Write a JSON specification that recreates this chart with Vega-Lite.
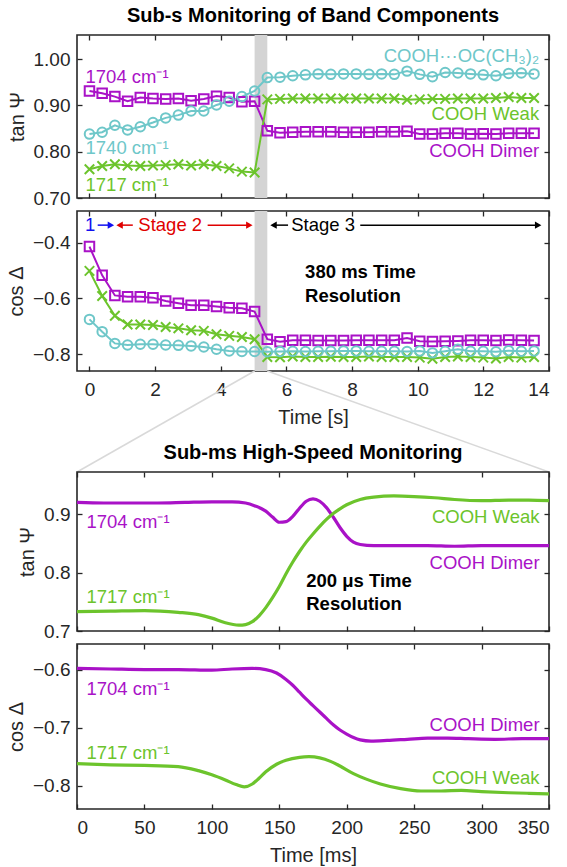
{
"$schema": "https://vega.github.io/schema/vega-lite/v6.json",
"background": "white",
"padding": {"left": 5, "right": 4, "top": 5, "bottom": 2},
"config": {
  "font": "Liberation Sans",
  "view": {"stroke": "#262626", "strokeWidth": 1.6},
  "axis": {"grid": false, "domain": false, "tickColor": "#262626", "tickWidth": 1.3, "tickSize": -5, "labelFont": "Liberation Sans", "labelFontSize": 19, "labelColor": "#262626", "titleFont": "Liberation Sans", "titleFontSize": 20, "titleFontWeight": "normal", "titleColor": "#262626"},
  "axisX": {"labelPadding": 14, "titlePadding": 8},
  "axisY": {"labelPadding": 12, "titlePadding": 6},
  "title": {"font": "Liberation Sans", "fontSize": 20, "fontWeight": "bold", "color": "#000000", "anchor": "middle", "offset": 8},
  "text": {"font": "Liberation Sans", "fontSize": 18.5}
},
"datasets": {
  "band": [{"a": 5.031, "b": 5.418}],
  "s": [
    {"t":0,"band":"1704","tan":0.931,"cos":-0.414},{"t":0.387,"band":"1704","tan":0.926,"cos":-0.517},{"t":0.774,"band":"1704","tan":0.919,"cos":-0.589},{"t":1.161,"band":"1704","tan":0.909,"cos":-0.594},{"t":1.548,"band":"1704","tan":0.917,"cos":-0.594},{"t":1.935,"band":"1704","tan":0.915,"cos":-0.597},{"t":2.322,"band":"1704","tan":0.914,"cos":-0.609},{"t":2.709,"band":"1704","tan":0.915,"cos":-0.617},{"t":3.096,"band":"1704","tan":0.910,"cos":-0.624},{"t":3.483,"band":"1704","tan":0.914,"cos":-0.624},{"t":3.87,"band":"1704","tan":0.920,"cos":-0.629},{"t":4.257,"band":"1704","tan":0.917,"cos":-0.633},{"t":4.644,"band":"1704","tan":0.908,"cos":-0.635},{"t":5.031,"band":"1704","tan":0.909,"cos":-0.647},{"t":5.418,"band":"1704","tan":0.845,"cos":-0.746},{"t":5.805,"band":"1704","tan":0.841,"cos":-0.755},{"t":6.192,"band":"1704","tan":0.842,"cos":-0.750},{"t":6.579,"band":"1704","tan":0.843,"cos":-0.750},{"t":6.966,"band":"1704","tan":0.843,"cos":-0.751},{"t":7.353,"band":"1704","tan":0.843,"cos":-0.751},{"t":7.74,"band":"1704","tan":0.842,"cos":-0.751},{"t":8.127,"band":"1704","tan":0.842,"cos":-0.750},{"t":8.514,"band":"1704","tan":0.842,"cos":-0.750},{"t":8.901,"band":"1704","tan":0.843,"cos":-0.750},{"t":9.288,"band":"1704","tan":0.843,"cos":-0.750},{"t":9.675,"band":"1704","tan":0.844,"cos":-0.742},{"t":10.062,"band":"1704","tan":0.838,"cos":-0.753},{"t":10.449,"band":"1704","tan":0.838,"cos":-0.754},{"t":10.836,"band":"1704","tan":0.840,"cos":-0.753},{"t":11.223,"band":"1704","tan":0.840,"cos":-0.752},{"t":11.61,"band":"1704","tan":0.838,"cos":-0.750},{"t":11.997,"band":"1704","tan":0.839,"cos":-0.750},{"t":12.384,"band":"1704","tan":0.838,"cos":-0.751},{"t":12.771,"band":"1704","tan":0.840,"cos":-0.749},{"t":13.158,"band":"1704","tan":0.840,"cos":-0.750},{"t":13.545,"band":"1704","tan":0.840,"cos":-0.751},
    {"t":0,"band":"1717","tan":0.762,"cos":-0.501},{"t":0.387,"band":"1717","tan":0.769,"cos":-0.591},{"t":0.774,"band":"1717","tan":0.773,"cos":-0.662},{"t":1.161,"band":"1717","tan":0.770,"cos":-0.693},{"t":1.548,"band":"1717","tan":0.769,"cos":-0.693},{"t":1.935,"band":"1717","tan":0.770,"cos":-0.695},{"t":2.322,"band":"1717","tan":0.771,"cos":-0.702},{"t":2.709,"band":"1717","tan":0.773,"cos":-0.707},{"t":3.096,"band":"1717","tan":0.770,"cos":-0.714},{"t":3.483,"band":"1717","tan":0.773,"cos":-0.716},{"t":3.87,"band":"1717","tan":0.769,"cos":-0.728},{"t":4.257,"band":"1717","tan":0.764,"cos":-0.734},{"t":4.644,"band":"1717","tan":0.757,"cos":-0.738},{"t":5.031,"band":"1717","tan":0.755,"cos":-0.746},{"t":5.418,"band":"1717","tan":0.913,"cos":-0.810},{"t":5.805,"band":"1717","tan":0.914,"cos":-0.811},{"t":6.192,"band":"1717","tan":0.915,"cos":-0.808},{"t":6.579,"band":"1717","tan":0.915,"cos":-0.810},{"t":6.966,"band":"1717","tan":0.915,"cos":-0.810},{"t":7.353,"band":"1717","tan":0.915,"cos":-0.809},{"t":7.74,"band":"1717","tan":0.915,"cos":-0.810},{"t":8.127,"band":"1717","tan":0.915,"cos":-0.810},{"t":8.514,"band":"1717","tan":0.915,"cos":-0.808},{"t":8.901,"band":"1717","tan":0.915,"cos":-0.810},{"t":9.288,"band":"1717","tan":0.915,"cos":-0.810},{"t":9.675,"band":"1717","tan":0.912,"cos":-0.810},{"t":10.062,"band":"1717","tan":0.913,"cos":-0.812},{"t":10.449,"band":"1717","tan":0.914,"cos":-0.816},{"t":10.836,"band":"1717","tan":0.914,"cos":-0.810},{"t":11.223,"band":"1717","tan":0.915,"cos":-0.808},{"t":11.61,"band":"1717","tan":0.915,"cos":-0.810},{"t":11.997,"band":"1717","tan":0.915,"cos":-0.812},{"t":12.384,"band":"1717","tan":0.916,"cos":-0.815},{"t":12.771,"band":"1717","tan":0.918,"cos":-0.810},{"t":13.158,"band":"1717","tan":0.916,"cos":-0.812},{"t":13.545,"band":"1717","tan":0.916,"cos":-0.810},
    {"t":0,"band":"1740","tan":0.838,"cos":-0.675},{"t":0.387,"band":"1740","tan":0.842,"cos":-0.719},{"t":0.774,"band":"1740","tan":0.857,"cos":-0.761},{"t":1.161,"band":"1740","tan":0.847,"cos":-0.767},{"t":1.548,"band":"1740","tan":0.854,"cos":-0.764},{"t":1.935,"band":"1740","tan":0.863,"cos":-0.764},{"t":2.322,"band":"1740","tan":0.873,"cos":-0.767},{"t":2.709,"band":"1740","tan":0.879,"cos":-0.768},{"t":3.096,"band":"1740","tan":0.888,"cos":-0.770},{"t":3.483,"band":"1740","tan":0.888,"cos":-0.774},{"t":3.87,"band":"1740","tan":0.901,"cos":-0.782},{"t":4.257,"band":"1740","tan":0.909,"cos":-0.788},{"t":4.644,"band":"1740","tan":0.919,"cos":-0.790},{"t":5.031,"band":"1740","tan":0.931,"cos":-0.790},{"t":5.418,"band":"1740","tan":0.960,"cos":-0.791},{"t":5.805,"band":"1740","tan":0.961,"cos":-0.790},{"t":6.192,"band":"1740","tan":0.964,"cos":-0.789},{"t":6.579,"band":"1740","tan":0.966,"cos":-0.790},{"t":6.966,"band":"1740","tan":0.968,"cos":-0.789},{"t":7.353,"band":"1740","tan":0.967,"cos":-0.789},{"t":7.74,"band":"1740","tan":0.968,"cos":-0.788},{"t":8.127,"band":"1740","tan":0.968,"cos":-0.788},{"t":8.514,"band":"1740","tan":0.967,"cos":-0.789},{"t":8.901,"band":"1740","tan":0.968,"cos":-0.789},{"t":9.288,"band":"1740","tan":0.967,"cos":-0.789},{"t":9.675,"band":"1740","tan":0.974,"cos":-0.790},{"t":10.062,"band":"1740","tan":0.967,"cos":-0.788},{"t":10.449,"band":"1740","tan":0.962,"cos":-0.795},{"t":10.836,"band":"1740","tan":0.971,"cos":-0.789},{"t":11.223,"band":"1740","tan":0.970,"cos":-0.782},{"t":11.61,"band":"1740","tan":0.968,"cos":-0.789},{"t":11.997,"band":"1740","tan":0.966,"cos":-0.789},{"t":12.384,"band":"1740","tan":0.964,"cos":-0.791},{"t":12.771,"band":"1740","tan":0.969,"cos":-0.787},{"t":13.158,"band":"1740","tan":0.970,"cos":-0.789},{"t":13.545,"band":"1740","tan":0.968,"cos":-0.788}
  ],
  "n1l": [
    {"t":-0.12,"v":0.962,"label":"1704 cm⁻¹","band":"1704"},
    {"t":-0.12,"v":0.807,"label":"1740 cm⁻¹","band":"1740"},
    {"t":-0.12,"v":0.729,"label":"1717 cm⁻¹","band":"1717"}
  ],
  "n1r": [
    {"t":13.7,"v":1.007,"label":"COOH···OC(CH₃)₂","band":"1740"},
    {"t":13.7,"v":0.881,"label":"COOH Weak","band":"1717"},
    {"t":13.7,"v":0.801,"label":"COOH Dimer","band":"1704"}
  ],
  "n2b": [
    {"t":6.57,"v":-0.505,"label":"380 ms Time"},
    {"t":6.57,"v":-0.591,"label":"Resolution"}
  ],
  "stR": [
    {"a":0.25,"b":0.66,"v":-0.337,"stage":"1"},
    {"a":0.917,"b":1.32,"v":-0.337,"stage":"2"},
    {"a":3.6,"b":4.87,"v":-0.337,"stage":"2"},
    {"a":5.607,"b":6.05,"v":-0.337,"stage":"3"},
    {"a":8.25,"b":13.67,"v":-0.337,"stage":"3"}
  ],
  "stH": [
    {"t":0.653,"v":-0.337,"dir":"right","stage":"1"},
    {"t":0.917,"v":-0.337,"dir":"left","stage":"2"},
    {"t":4.87,"v":-0.337,"dir":"right","stage":"2"},
    {"t":5.607,"v":-0.337,"dir":"left","stage":"3"},
    {"t":13.67,"v":-0.337,"dir":"right","stage":"3"}
  ],
  "stT": [
    {"t":0.02,"v":-0.337,"label":"1","stage":"1"},
    {"t":2.46,"v":-0.337,"label":"Stage 2","stage":"2"},
    {"t":7.12,"v":-0.337,"label":"Stage 3","stage":"3"}
  ],
  "conn": [
    {"seg":"L","t":5.031,"v":1.1733},{"seg":"L","t":-0.38,"v":-0.1733},
    {"seg":"R","t":5.418,"v":1.1733},{"seg":"R","t":14,"v":-0.1733}
  ],
  "mt": [
    {"ms":0,"band":"1704","v":0.920},{"ms":20,"band":"1704","v":0.919},{"ms":40,"band":"1704","v":0.919},{"ms":60,"band":"1704","v":0.919},{"ms":80,"band":"1704","v":0.920},{"ms":100,"band":"1704","v":0.921},{"ms":115,"band":"1704","v":0.921},{"ms":125,"band":"1704","v":0.919},{"ms":132,"band":"1704","v":0.914},{"ms":140,"band":"1704","v":0.905},{"ms":145,"band":"1704","v":0.895},{"ms":150,"band":"1704","v":0.886},{"ms":155,"band":"1704","v":0.887},{"ms":160,"band":"1704","v":0.896},{"ms":165,"band":"1704","v":0.910},{"ms":170,"band":"1704","v":0.922},{"ms":175,"band":"1704","v":0.926},{"ms":180,"band":"1704","v":0.922},{"ms":185,"band":"1704","v":0.911},{"ms":190,"band":"1704","v":0.895},{"ms":195,"band":"1704","v":0.877},{"ms":200,"band":"1704","v":0.862},{"ms":205,"band":"1704","v":0.852},{"ms":210,"band":"1704","v":0.848},{"ms":220,"band":"1704","v":0.846},{"ms":240,"band":"1704","v":0.846},{"ms":260,"band":"1704","v":0.846},{"ms":280,"band":"1704","v":0.845},{"ms":300,"band":"1704","v":0.846},{"ms":325,"band":"1704","v":0.846},{"ms":350,"band":"1704","v":0.846},
    {"ms":0,"band":"1717","v":0.733},{"ms":25,"band":"1717","v":0.734},{"ms":50,"band":"1717","v":0.735},{"ms":75,"band":"1717","v":0.732},{"ms":90,"band":"1717","v":0.728},{"ms":100,"band":"1717","v":0.722},{"ms":110,"band":"1717","v":0.714},{"ms":120,"band":"1717","v":0.710},{"ms":125,"band":"1717","v":0.711},{"ms":130,"band":"1717","v":0.716},{"ms":135,"band":"1717","v":0.726},{"ms":140,"band":"1717","v":0.740},{"ms":145,"band":"1717","v":0.757},{"ms":150,"band":"1717","v":0.776},{"ms":155,"band":"1717","v":0.798},{"ms":160,"band":"1717","v":0.818},{"ms":165,"band":"1717","v":0.836},{"ms":170,"band":"1717","v":0.852},{"ms":175,"band":"1717","v":0.866},{"ms":180,"band":"1717","v":0.879},{"ms":185,"band":"1717","v":0.891},{"ms":190,"band":"1717","v":0.901},{"ms":195,"band":"1717","v":0.909},{"ms":200,"band":"1717","v":0.916},{"ms":210,"band":"1717","v":0.925},{"ms":220,"band":"1717","v":0.929},{"ms":235,"band":"1717","v":0.931},{"ms":250,"band":"1717","v":0.930},{"ms":265,"band":"1717","v":0.928},{"ms":280,"band":"1717","v":0.925},{"ms":300,"band":"1717","v":0.923},{"ms":320,"band":"1717","v":0.924},{"ms":335,"band":"1717","v":0.924},{"ms":350,"band":"1717","v":0.923}
  ],
  "mc": [
    {"ms":0,"band":"1704","v":-0.598},{"ms":25,"band":"1704","v":-0.599},{"ms":50,"band":"1704","v":-0.600},{"ms":75,"band":"1704","v":-0.600},{"ms":100,"band":"1704","v":-0.601},{"ms":115,"band":"1704","v":-0.599},{"ms":130,"band":"1704","v":-0.598},{"ms":140,"band":"1704","v":-0.600},{"ms":148,"band":"1704","v":-0.606},{"ms":155,"band":"1704","v":-0.617},{"ms":160,"band":"1704","v":-0.627},{"ms":165,"band":"1704","v":-0.639},{"ms":170,"band":"1704","v":-0.651},{"ms":175,"band":"1704","v":-0.662},{"ms":180,"band":"1704","v":-0.673},{"ms":185,"band":"1704","v":-0.684},{"ms":190,"band":"1704","v":-0.695},{"ms":195,"band":"1704","v":-0.704},{"ms":200,"band":"1704","v":-0.711},{"ms":205,"band":"1704","v":-0.717},{"ms":210,"band":"1704","v":-0.721},{"ms":218,"band":"1704","v":-0.723},{"ms":230,"band":"1704","v":-0.722},{"ms":245,"band":"1704","v":-0.720},{"ms":260,"band":"1704","v":-0.718},{"ms":275,"band":"1704","v":-0.718},{"ms":290,"band":"1704","v":-0.719},{"ms":310,"band":"1704","v":-0.720},{"ms":330,"band":"1704","v":-0.719},{"ms":350,"band":"1704","v":-0.719},
    {"ms":0,"band":"1717","v":-0.762},{"ms":25,"band":"1717","v":-0.764},{"ms":50,"band":"1717","v":-0.765},{"ms":75,"band":"1717","v":-0.767},{"ms":90,"band":"1717","v":-0.774},{"ms":100,"band":"1717","v":-0.781},{"ms":110,"band":"1717","v":-0.790},{"ms":118,"band":"1717","v":-0.798},{"ms":124,"band":"1717","v":-0.802},{"ms":130,"band":"1717","v":-0.797},{"ms":135,"band":"1717","v":-0.787},{"ms":140,"band":"1717","v":-0.776},{"ms":148,"band":"1717","v":-0.763},{"ms":155,"band":"1717","v":-0.756},{"ms":165,"band":"1717","v":-0.751},{"ms":172,"band":"1717","v":-0.750},{"ms":180,"band":"1717","v":-0.752},{"ms":188,"band":"1717","v":-0.758},{"ms":195,"band":"1717","v":-0.766},{"ms":205,"band":"1717","v":-0.779},{"ms":215,"band":"1717","v":-0.789},{"ms":225,"band":"1717","v":-0.797},{"ms":240,"band":"1717","v":-0.805},{"ms":255,"band":"1717","v":-0.809},{"ms":270,"band":"1717","v":-0.809},{"ms":285,"band":"1717","v":-0.808},{"ms":300,"band":"1717","v":-0.810},{"ms":320,"band":"1717","v":-0.812},{"ms":335,"band":"1717","v":-0.813},{"ms":350,"band":"1717","v":-0.814}
  ],
  "n3l": [
    {"ms":7,"v":0.887,"label":"1704 cm⁻¹","band":"1704"},
    {"ms":7,"v":0.758,"label":"1717 cm⁻¹","band":"1717"}
  ],
  "n3r": [
    {"ms":343,"v":0.895,"label":"COOH Weak","band":"1717"},
    {"ms":343,"v":0.817,"label":"COOH Dimer","band":"1704"}
  ],
  "n3b": [
    {"ms":170,"v":0.785,"label":"200 μs Time"},
    {"ms":170,"v":0.746,"label":"Resolution"}
  ],
  "n4l": [
    {"ms":7,"v":-0.634,"label":"1704 cm⁻¹","band":"1704"},
    {"ms":7,"v":-0.744,"label":"1717 cm⁻¹","band":"1717"}
  ],
  "n4r": [
    {"ms":343,"v":-0.695,"label":"COOH Dimer","band":"1704"},
    {"ms":343,"v":-0.787,"label":"COOH Weak","band":"1717"}
  ]
},
"spacing": 13,
"bounds": "flush",
"vconcat": [
  {
    "width": 472, "height": 163,
    "title": "Sub-s Monitoring of Band Components",
    "layer": [
      {"data": {"name": "band"}, "mark": {"type": "rect", "color": "#D4D4D4"},
       "encoding": {"x": {"field": "a", "type": "quantitative", "scale": {"domain": [-0.38, 14], "nice": false}, "axis": {"orient": "bottom", "labels": false, "title": null, "values": [0,2,4,6,8,10,12,14]}}, "x2": {"field": "b"}}},
      {"data": {"name": "s"}, "mark": {"type": "line", "strokeWidth": 2},
       "encoding": {"x": {"field": "t", "type": "quantitative", "scale": {"domain": [-0.38, 14], "nice": false}, "axis": null},
         "y": {"field": "tan", "type": "quantitative", "scale": {"domain": [0.70, 1.052], "nice": false, "zero": false}, "axis": {"title": "tan Ψ", "values": [0.7, 0.8, 0.9, 1.0], "format": ".2f"}},
         "color": {"field": "band", "type": "nominal", "scale": {"domain": ["1704","1717","1740"], "range": ["#A912C7","#6CC42C","#6EC7C9"]}, "legend": null}}},
      {"data": {"name": "s"}, "mark": {"type": "point", "filled": false, "strokeWidth": 2, "size": 90, "opacity": 1},
       "encoding": {"x": {"field": "t", "type": "quantitative", "scale": {"domain": [-0.38, 14], "nice": false}, "axis": null},
         "y": {"field": "tan", "type": "quantitative", "scale": {"domain": [0.70, 1.052], "nice": false, "zero": false}, "axis": null},
         "color": {"field": "band", "type": "nominal", "scale": {"domain": ["1704","1717","1740"], "range": ["#A912C7","#6CC42C","#6EC7C9"]}, "legend": null},
         "shape": {"field": "band", "type": "nominal", "scale": {"domain": ["1704","1717","1740"], "range": ["square","M-1,-1L1,1M-1,1L1,-1","circle"]}, "legend": null}}},
      {"data": {"name": "n1l"}, "mark": {"type": "text", "align": "left", "baseline": "middle"},
       "encoding": {"x": {"field": "t", "type": "quantitative", "scale": {"domain": [-0.38, 14], "nice": false}, "axis": null},
         "y": {"field": "v", "type": "quantitative", "scale": {"domain": [0.70, 1.052], "nice": false, "zero": false}, "axis": null},
         "text": {"field": "label"},
         "color": {"field": "band", "type": "nominal", "scale": {"domain": ["1704","1717","1740"], "range": ["#A912C7","#6CC42C","#6EC7C9"]}, "legend": null}}},
      {"data": {"name": "n1r"}, "mark": {"type": "text", "align": "right", "baseline": "middle"},
       "encoding": {"x": {"field": "t", "type": "quantitative", "scale": {"domain": [-0.38, 14], "nice": false}, "axis": null},
         "y": {"field": "v", "type": "quantitative", "scale": {"domain": [0.70, 1.052], "nice": false, "zero": false}, "axis": null},
         "text": {"field": "label"},
         "color": {"field": "band", "type": "nominal", "scale": {"domain": ["1704","1717","1740"], "range": ["#A912C7","#6CC42C","#6EC7C9"]}, "legend": null}}},
      {"data": {"name": "s"}, "mark": {"type": "point", "opacity": 0},
       "encoding": {"x": {"field": "t", "type": "quantitative", "scale": {"domain": [-0.38, 14], "nice": false}, "axis": {"orient": "top", "labels": false, "title": null, "values": [0,2,4,6,8,10,12,14]}},
         "y": {"field": "tan", "type": "quantitative", "scale": {"domain": [0.70, 1.052], "nice": false, "zero": false}, "axis": {"orient": "right", "labels": false, "title": null, "values": [0.7, 0.8, 0.9, 1.0]}}}}
    ],
    "resolve": {"axis": {"x": "independent", "y": "independent"}}
  },
  {
    "width": 472, "height": 160,
    "layer": [
      {"data": {"name": "band"}, "mark": {"type": "rect", "color": "#D4D4D4"},
       "encoding": {"x": {"field": "a", "type": "quantitative", "scale": {"domain": [-0.38, 14], "nice": false}, "axis": {"orient": "bottom", "title": "Time [s]", "values": [0,2,4,6,8,10,12,14]}}, "x2": {"field": "b"}}},
      {"data": {"name": "s"}, "mark": {"type": "line", "strokeWidth": 2},
       "encoding": {"x": {"field": "t", "type": "quantitative", "scale": {"domain": [-0.38, 14], "nice": false}, "axis": null},
         "y": {"field": "cos", "type": "quantitative", "scale": {"domain": [-0.86, -0.2863], "nice": false, "zero": false}, "axis": {"title": "cos Δ", "values": [-0.8, -0.6, -0.4], "format": ".1f"}},
         "color": {"field": "band", "type": "nominal", "scale": {"domain": ["1704","1717","1740"], "range": ["#A912C7","#6CC42C","#6EC7C9"]}, "legend": null}}},
      {"data": {"name": "s"}, "mark": {"type": "point", "filled": false, "strokeWidth": 2, "size": 90, "opacity": 1},
       "encoding": {"x": {"field": "t", "type": "quantitative", "scale": {"domain": [-0.38, 14], "nice": false}, "axis": null},
         "y": {"field": "cos", "type": "quantitative", "scale": {"domain": [-0.86, -0.2863], "nice": false, "zero": false}, "axis": null},
         "color": {"field": "band", "type": "nominal", "scale": {"domain": ["1704","1717","1740"], "range": ["#A912C7","#6CC42C","#6EC7C9"]}, "legend": null},
         "shape": {"field": "band", "type": "nominal", "scale": {"domain": ["1704","1717","1740"], "range": ["square","M-1,-1L1,1M-1,1L1,-1","circle"]}, "legend": null}}},
      {"data": {"name": "n2b"}, "mark": {"type": "text", "align": "left", "baseline": "middle", "fontWeight": "bold", "color": "#000000"},
       "encoding": {"x": {"field": "t", "type": "quantitative", "scale": {"domain": [-0.38, 14], "nice": false}, "axis": null},
         "y": {"field": "v", "type": "quantitative", "scale": {"domain": [-0.86, -0.2863], "nice": false, "zero": false}, "axis": null},
         "text": {"field": "label"}}},
      {"data": {"name": "stR"}, "mark": {"type": "rule", "strokeWidth": 1.5},
       "encoding": {"x": {"field": "a", "type": "quantitative", "scale": {"domain": [-0.38, 14], "nice": false}, "axis": null}, "x2": {"field": "b"},
         "y": {"field": "v", "type": "quantitative", "scale": {"domain": [-0.86, -0.2863], "nice": false, "zero": false}, "axis": null},
         "color": {"field": "stage", "type": "nominal", "scale": {"domain": ["1","2","3"], "range": ["#1010F0","#E00000","#000000"]}, "legend": null}}},
      {"data": {"name": "stH"}, "mark": {"type": "point", "filled": true, "size": 55, "opacity": 1},
       "encoding": {"x": {"field": "t", "type": "quantitative", "scale": {"domain": [-0.38, 14], "nice": false}, "axis": null},
         "y": {"field": "v", "type": "quantitative", "scale": {"domain": [-0.86, -0.2863], "nice": false, "zero": false}, "axis": null},
         "shape": {"field": "dir", "type": "nominal", "scale": {"domain": ["right","left"], "range": ["triangle-right","triangle-left"]}, "legend": null},
         "color": {"field": "stage", "type": "nominal", "scale": {"domain": ["1","2","3"], "range": ["#1010F0","#E00000","#000000"]}, "legend": null}}},
      {"data": {"name": "stT"}, "mark": {"type": "text", "align": "center", "baseline": "middle"},
       "encoding": {"x": {"field": "t", "type": "quantitative", "scale": {"domain": [-0.38, 14], "nice": false}, "axis": null},
         "y": {"field": "v", "type": "quantitative", "scale": {"domain": [-0.86, -0.2863], "nice": false, "zero": false}, "axis": null},
         "text": {"field": "label"},
         "color": {"field": "stage", "type": "nominal", "scale": {"domain": ["1","2","3"], "range": ["#1010F0","#E00000","#000000"]}, "legend": null}}},
      {"data": {"name": "s"}, "mark": {"type": "point", "opacity": 0},
       "encoding": {"x": {"field": "t", "type": "quantitative", "scale": {"domain": [-0.38, 14], "nice": false}, "axis": {"orient": "top", "labels": false, "title": null, "values": [0,2,4,6,8,10,12,14]}},
         "y": {"field": "cos", "type": "quantitative", "scale": {"domain": [-0.86, -0.2863], "nice": false, "zero": false}, "axis": {"orient": "right", "labels": false, "title": null, "values": [-0.8, -0.6, -0.4]}}}}
    ],
    "resolve": {"axis": {"x": "independent", "y": "independent"}, "scale": {"color": "independent", "shape": "independent"}}
  },
  {
    "width": 472, "height": 75,
    "view": {"stroke": null},
    "data": {"name": "conn"},
    "mark": {"type": "line", "color": "#D9D9D9", "strokeWidth": 1.5, "clip": false},
    "encoding": {
      "x": {"field": "t", "type": "quantitative", "scale": {"domain": [-0.38, 14], "nice": false}, "axis": null},
      "y": {"field": "v", "type": "quantitative", "scale": {"domain": [0, 1], "nice": false, "zero": false}, "axis": null},
      "detail": {"field": "seg"}
    }
  },
  {
    "width": 472, "height": 159,
    "title": "Sub-ms High-Speed Monitoring",
    "layer": [
      {"data": {"name": "mt"}, "mark": {"type": "line", "strokeWidth": 3.2, "interpolate": "monotone"},
       "encoding": {"x": {"field": "ms", "type": "quantitative", "scale": {"domain": [0, 350], "nice": false}, "axis": {"orient": "bottom", "labels": false, "title": null, "values": [0,50,100,150,200,250,300,350]}},
         "y": {"field": "v", "type": "quantitative", "scale": {"domain": [0.70, 0.972], "nice": false, "zero": false}, "axis": {"title": "tan Ψ", "values": [0.7, 0.8, 0.9], "format": ".1f"}},
         "color": {"field": "band", "type": "nominal", "scale": {"domain": ["1704","1717","1740"], "range": ["#A912C7","#6CC42C","#6EC7C9"]}, "legend": null}}},
      {"data": {"name": "n3l"}, "mark": {"type": "text", "align": "left", "baseline": "middle"},
       "encoding": {"x": {"field": "ms", "type": "quantitative", "scale": {"domain": [0, 350], "nice": false}, "axis": null},
         "y": {"field": "v", "type": "quantitative", "scale": {"domain": [0.70, 0.972], "nice": false, "zero": false}, "axis": null},
         "text": {"field": "label"},
         "color": {"field": "band", "type": "nominal", "scale": {"domain": ["1704","1717","1740"], "range": ["#A912C7","#6CC42C","#6EC7C9"]}, "legend": null}}},
      {"data": {"name": "n3r"}, "mark": {"type": "text", "align": "right", "baseline": "middle"},
       "encoding": {"x": {"field": "ms", "type": "quantitative", "scale": {"domain": [0, 350], "nice": false}, "axis": null},
         "y": {"field": "v", "type": "quantitative", "scale": {"domain": [0.70, 0.972], "nice": false, "zero": false}, "axis": null},
         "text": {"field": "label"},
         "color": {"field": "band", "type": "nominal", "scale": {"domain": ["1704","1717","1740"], "range": ["#A912C7","#6CC42C","#6EC7C9"]}, "legend": null}}},
      {"data": {"name": "n3b"}, "mark": {"type": "text", "align": "left", "baseline": "middle", "fontWeight": "bold", "color": "#000000"},
       "encoding": {"x": {"field": "ms", "type": "quantitative", "scale": {"domain": [0, 350], "nice": false}, "axis": null},
         "y": {"field": "v", "type": "quantitative", "scale": {"domain": [0.70, 0.972], "nice": false, "zero": false}, "axis": null},
         "text": {"field": "label"}}},
      {"data": {"name": "mt"}, "mark": {"type": "point", "opacity": 0},
       "encoding": {"x": {"field": "ms", "type": "quantitative", "scale": {"domain": [0, 350], "nice": false}, "axis": {"orient": "top", "labels": false, "title": null, "values": [0,50,100,150,200,250,300,350]}},
         "y": {"field": "v", "type": "quantitative", "scale": {"domain": [0.70, 0.972], "nice": false, "zero": false}, "axis": {"orient": "right", "labels": false, "title": null, "values": [0.7, 0.8, 0.9]}}}}
    ],
    "resolve": {"axis": {"x": "independent", "y": "independent"}}
  },
  {
    "width": 472, "height": 165,
    "layer": [
      {"data": {"name": "mc"}, "mark": {"type": "line", "strokeWidth": 3.2, "interpolate": "monotone"},
       "encoding": {"x": {"field": "ms", "type": "quantitative", "scale": {"domain": [0, 350], "nice": false}, "axis": {"orient": "bottom", "title": "Time [ms]", "values": [0,50,100,150,200,250,300,350]}},
         "y": {"field": "v", "type": "quantitative", "scale": {"domain": [-0.84, -0.556], "nice": false, "zero": false}, "axis": {"title": "cos Δ", "values": [-0.8, -0.7, -0.6], "format": ".1f"}},
         "color": {"field": "band", "type": "nominal", "scale": {"domain": ["1704","1717","1740"], "range": ["#A912C7","#6CC42C","#6EC7C9"]}, "legend": null}}},
      {"data": {"name": "n4l"}, "mark": {"type": "text", "align": "left", "baseline": "middle"},
       "encoding": {"x": {"field": "ms", "type": "quantitative", "scale": {"domain": [0, 350], "nice": false}, "axis": null},
         "y": {"field": "v", "type": "quantitative", "scale": {"domain": [-0.84, -0.556], "nice": false, "zero": false}, "axis": null},
         "text": {"field": "label"},
         "color": {"field": "band", "type": "nominal", "scale": {"domain": ["1704","1717","1740"], "range": ["#A912C7","#6CC42C","#6EC7C9"]}, "legend": null}}},
      {"data": {"name": "n4r"}, "mark": {"type": "text", "align": "right", "baseline": "middle"},
       "encoding": {"x": {"field": "ms", "type": "quantitative", "scale": {"domain": [0, 350], "nice": false}, "axis": null},
         "y": {"field": "v", "type": "quantitative", "scale": {"domain": [-0.84, -0.556], "nice": false, "zero": false}, "axis": null},
         "text": {"field": "label"},
         "color": {"field": "band", "type": "nominal", "scale": {"domain": ["1704","1717","1740"], "range": ["#A912C7","#6CC42C","#6EC7C9"]}, "legend": null}}},
      {"data": {"name": "mc"}, "mark": {"type": "point", "opacity": 0},
       "encoding": {"x": {"field": "ms", "type": "quantitative", "scale": {"domain": [0, 350], "nice": false}, "axis": {"orient": "top", "labels": false, "title": null, "values": [0,50,100,150,200,250,300,350]}},
         "y": {"field": "v", "type": "quantitative", "scale": {"domain": [-0.84, -0.556], "nice": false, "zero": false}, "axis": {"orient": "right", "labels": false, "title": null, "values": [-0.8, -0.7, -0.6]}}}}
    ],
    "resolve": {"axis": {"x": "independent", "y": "independent"}}
  }
]
}
